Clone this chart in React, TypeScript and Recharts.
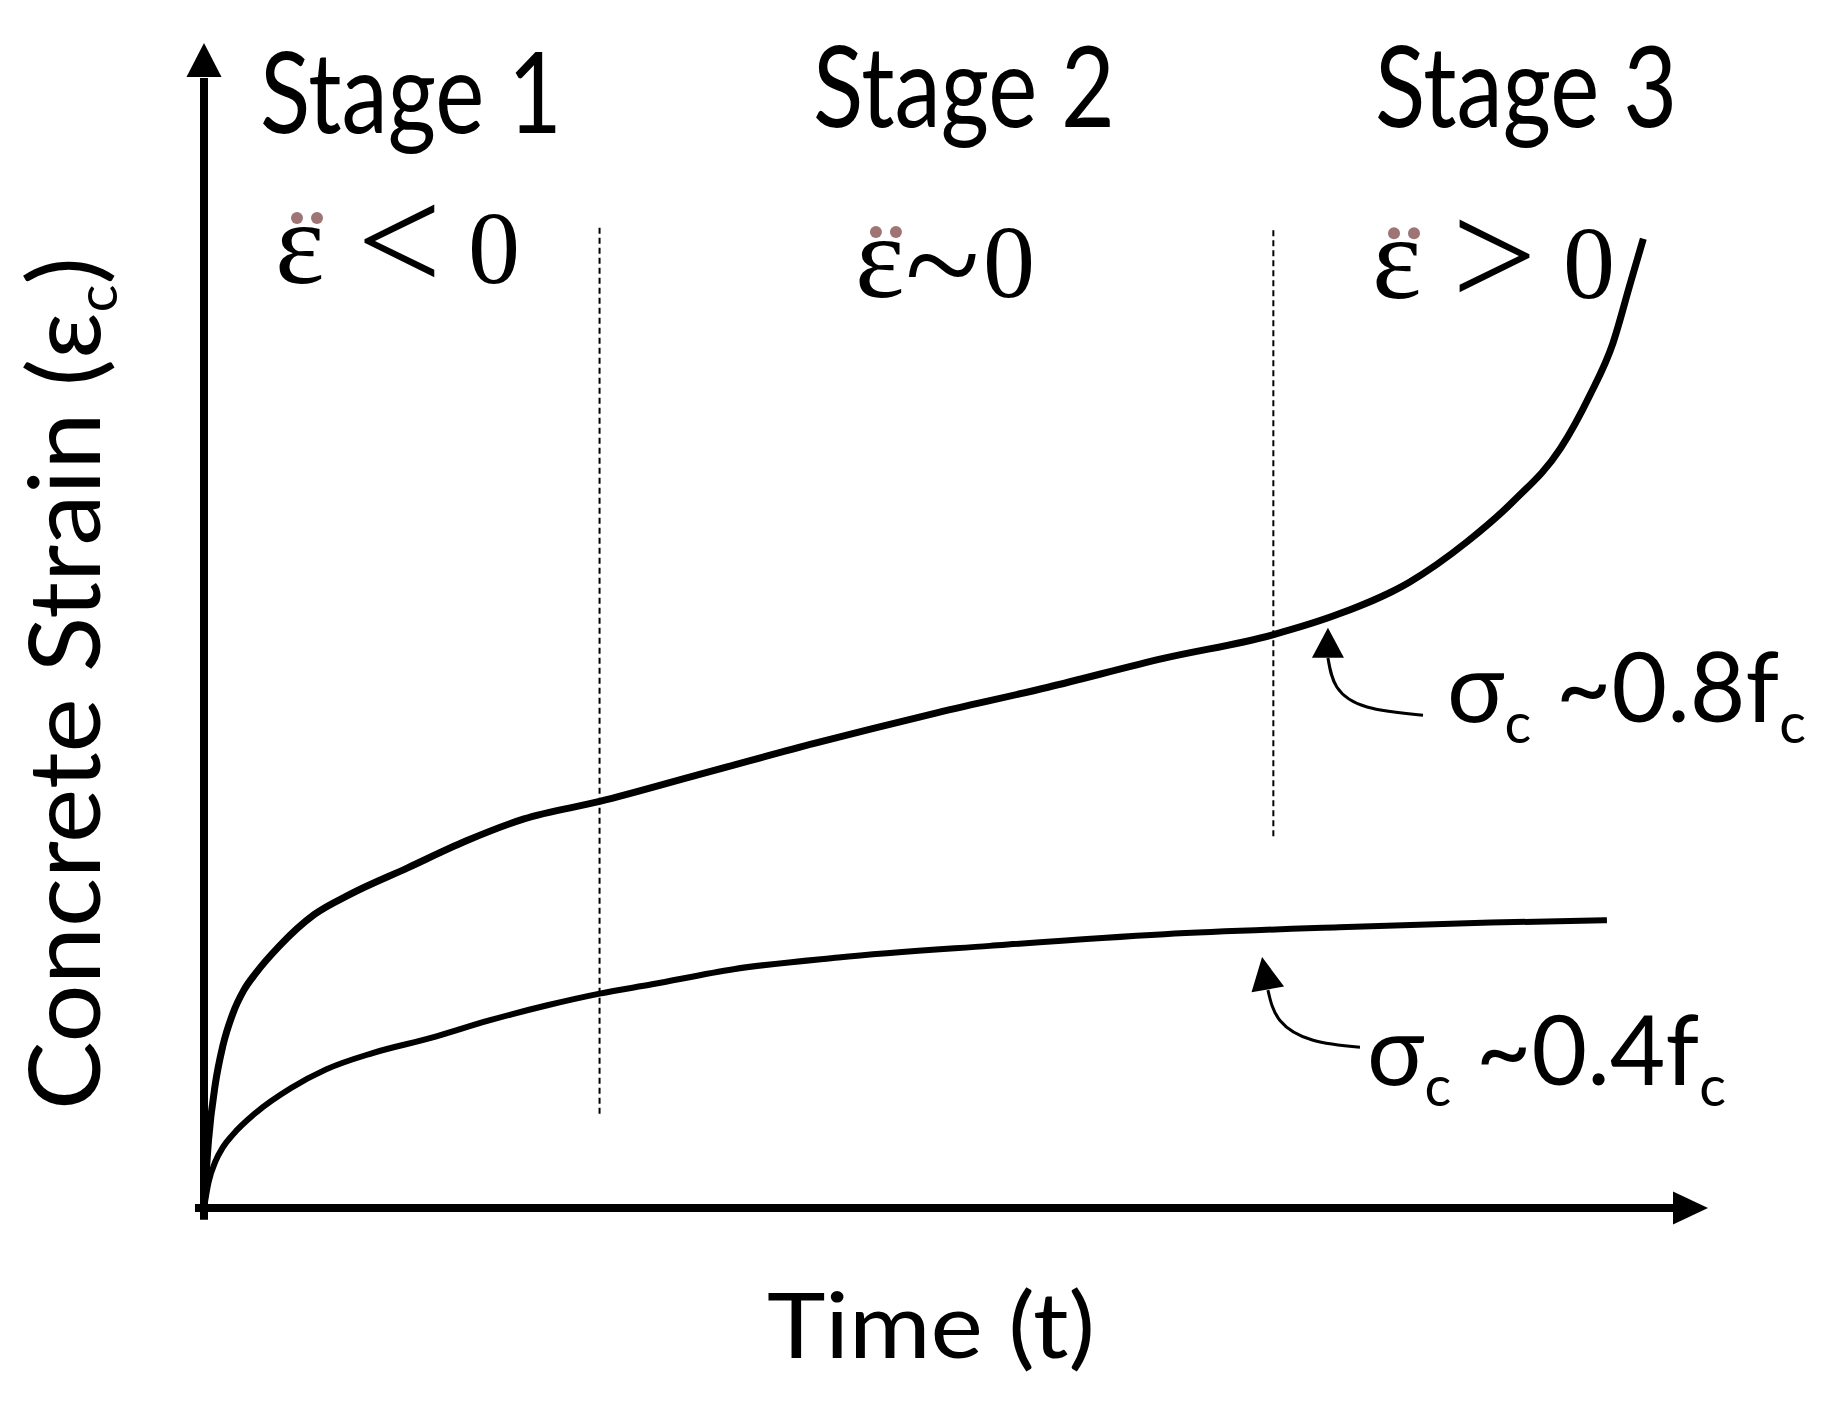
import React from 'react'
import { ComposedChart, Line, Scatter, XAxis, YAxis, ReferenceLine } from 'recharts'

// creep curves (time t, strain e; the axes run 0..100)
const highStress = [
  { t: 0, e: 0 }, { t: 0.3, e: 5.8 }, { t: 0.76, e: 10.7 }, { t: 1.25, e: 13.9 },
  { t: 1.92, e: 16.7 }, { t: 2.65, e: 18.7 }, { t: 3.47, e: 20.2 },
  { t: 5.02, e: 22.5 }, { t: 7.34, e: 25.2 }, { t: 9.67, e: 26.9 }, { t: 13.54, e: 29.2 },
  { t: 17.41, e: 31.5 }, { t: 21.28, e: 33.4 }, { t: 26.31, e: 34.9 }, { t: 32.89, e: 37.2 },
  { t: 40.64, e: 39.9 }, { t: 48.38, e: 42.4 }, { t: 56.12, e: 44.7 }, { t: 63.86, e: 47.2 },
  { t: 71.06, e: 49.2 }, { t: 75.48, e: 51.0 }, { t: 80.12, e: 53.7 }, { t: 83.99, e: 57.2 },
  { t: 87.09, e: 60.7 }, { t: 90.19, e: 65.2 }, { t: 92.12, e: 69.7 }, { t: 93.67, e: 74.2 },
  { t: 94.84, e: 79.4 }, { t: 95.7, e: 83.2 },
]

const lowStress = [
  { t: 0, e: 0 }, { t: 0.3, e: 2.2 }, { t: 0.76, e: 4.0 }, { t: 1.25, e: 5.2 },
  { t: 1.92, e: 6.3 }, { t: 3.47, e: 8.2 },
  { t: 5.79, e: 10.3 }, { t: 8.12, e: 11.9 }, { t: 11.21, e: 13.3 }, { t: 15.09, e: 14.6 },
  { t: 18.96, e: 16.1 }, { t: 22.83, e: 17.4 }, { t: 26.31, e: 18.4 }, { t: 29.79, e: 19.2 },
  { t: 35.21, e: 20.5 }, { t: 42.18, e: 21.5 }, { t: 52.25, e: 22.5 }, { t: 63.86, e: 23.5 },
  { t: 75.48, e: 24.1 }, { t: 85.55, e: 24.5 }, { t: 93.28, e: 24.7 },
]

// leader arrows pointing at each curve
const highLeader = [{ t: 74.73, e: 47.2 }, { t: 75.33, e: 44.7 }, { t: 77.33, e: 43.0 }, { t: 81.05, e: 42.3 }]
const lowLeader = [{ t: 70.74, e: 18.7 }, { t: 71.54, e: 16.1 }, { t: 73.74, e: 14.4 }, { t: 76.86, e: 13.8 }]

// stage boundaries: time and vertical extent
const stageBounds = [
  { t: 26.3, from: 8.1, to: 84.2 },
  { t: 71.1, from: 31.9, to: 84.2 },
]

const arrowheads = [
  { name: 'y', t: 0, e: 100 },
  { name: 'x', t: 100, e: 0 },
  { name: 'high', t: 74.73, e: 49.8 },
  { name: 'low', t: 70.35, e: 21.55 },
]

const stageLabels = [
  { text: 'Stage 1', t: 3.72, e: 92.27 },
  { text: 'Stage 2', t: 40.49, e: 92.79 },
  { text: 'Stage 3', t: 77.86, e: 92.79 },
]

const rateLabels = [
  { op: '<', t: 4.72, e: 79.4 },
  { op: '~', t: 43.28, e: 78.2 },
  { op: '>', t: 77.66, e: 78.1 },
]

const stressLabels = [
  { value: '0.8', t: 82.65, e: 41.72 },
  { value: '0.4', t: 77.33, e: 10.56 },
]

const xTitle = [{ text: 'Time (t)', t: 37.43, e: -12.88 }]
const yTitle = [{ text: 'Concrete Strain (ε', sub: 'c', t: -6.91, e: 8.41 }]

const SANS = "Lato, 'Noto Sans', sans-serif"
const SERIF = "'Liberation Serif', 'DejaVu Serif', serif"
const DOT_COLOR = '#9f7474'

const headStyle: Record<string, { rot: number; len: number; half: number }> = {
  y: { rot: 0, len: 34, half: 17.5 },
  x: { rot: 90, len: 35, half: 16.5 },
  high: { rot: 0, len: 30, half: 16 },
  low: { rot: -10, len: 33, half: 16.5 },
}

// horizontal offsets inside each "ε̈ op 0" label, plus operator size/shift
const rateOffsets: Record<string, { op: number; zero: number; dots: number; size: number; dy: number }> = {
  '<': { op: 82, zero: 193, dots: 32, size: 150, dy: 8 },
  '~': { op: 50, zero: 128, dots: 31, size: 138, dy: 14 },
  '>': { op: 80, zero: 191, dots: 32, size: 150, dy: 8 },
}

const Arrowhead = (props: any) => {
  const { cx, cy, payload } = props
  const s = headStyle[payload.name]
  return (
    <polygon
      points={`0,0 ${-s.half},${s.len} ${s.half},${s.len}`}
      transform={`translate(${cx},${cy}) rotate(${s.rot})`}
      fill="#000"
    />
  )
}

const StageText = (props: any) => (
  <text x={props.cx} y={props.cy} fontFamily={SANS} fontSize={112} fill="#000"
    textLength={302} lengthAdjust="spacingAndGlyphs">
    {props.payload.text}
  </text>
)

const RateText = (props: any) => {
  const { cx, cy, payload } = props
  const o = rateOffsets[payload.op]
  return (
    <g>
      <circle cx={cx + o.dots - 10} cy={cy - 65} r={6} fill={DOT_COLOR} />
      <circle cx={cx + o.dots + 10} cy={cy - 65} r={6} fill={DOT_COLOR} />
      <text y={cy} fontFamily={SERIF} fill="#000">
        <tspan x={cx} fontSize={118}>ε</tspan>
        <tspan x={cx + o.op} dy={o.dy} fontSize={o.size}>{payload.op}</tspan>
        <tspan x={cx + o.zero} y={cy} fontSize={104}>0</tspan>
      </text>
    </g>
  )
}

// σ_c ~0.8f_c, laid out in natural flow so the subscripts follow their letters
const StressText = (props: any) => {
  const { cx, cy, payload } = props
  return (
    <text x={cx} y={cy} fontFamily={SANS} fontSize={96} fill="#000">
      σ
      <tspan dy={21} fontSize={56}>c</tspan>
      <tspan dy={-21}>{` ~${payload.value}f`}</tspan>
      <tspan dy={21} fontSize={56}>c</tspan>
    </text>
  )
}

const XTitle = (props: any) => (
  <text x={props.cx} y={props.cy} fontFamily={SANS} fontSize={91} fill="#000"
    textLength={328} lengthAdjust="spacingAndGlyphs">
    {props.payload.text}
  </text>
)

const YTitle = (props: any) => {
  const { cx, cy, payload } = props
  return (
    <text x={cx} y={cy} transform={`rotate(-90 ${cx} ${cy})`} fontFamily={SANS} fontSize={98} fill="#000"
      textLength={853} lengthAdjust="spacingAndGlyphs">
      {payload.text}
      <tspan dy={17} fontSize={56}>{payload.sub}</tspan>
      <tspan dy={-17}>)</tspan>
    </text>
  )
}

export default function App() {
  return (
    <div style={{ position: 'absolute', left: 0, top: 0, width: 1826, height: 1418, background: '#fff' }}>
      <ComposedChart width={1826} height={1418} margin={{ top: 43, right: 118, bottom: 35.25, left: 53.6 }}>
        <XAxis dataKey="t" type="number" domain={[-10, 100]} hide />
        <YAxis dataKey="e" type="number" domain={[-15, 100]} hide />

        {stageBounds.map((b) => (
          <ReferenceLine key={b.t} segment={[{ x: b.t, y: b.from }, { x: b.t, y: b.to }]}
            stroke="#000" strokeWidth={2} strokeDasharray="6 4" ifOverflow="visible" />
        ))}

        <ReferenceLine segment={[{ x: 0, y: -1 }, { x: 0, y: 97 }]} stroke="#000" strokeWidth={8} ifOverflow="visible" />
        <ReferenceLine segment={[{ x: -0.6, y: 0 }, { x: 97.7, y: 0 }]} stroke="#000" strokeWidth={8} ifOverflow="visible" />

        <Line data={highStress} dataKey="e" type="monotone" stroke="#000" strokeWidth={7} dot={false} isAnimationActive={false} />
        <Line data={lowStress} dataKey="e" type="monotone" stroke="#000" strokeWidth={6} dot={false} isAnimationActive={false} />
        <Line data={highLeader} dataKey="e" type="natural" stroke="#000" strokeWidth={3} dot={false} isAnimationActive={false} />
        <Line data={lowLeader} dataKey="e" type="natural" stroke="#000" strokeWidth={3} dot={false} isAnimationActive={false} />

        <Scatter data={arrowheads} dataKey="e" shape={Arrowhead} isAnimationActive={false} />
        <Scatter data={stageLabels} dataKey="e" shape={StageText} isAnimationActive={false} />
        <Scatter data={rateLabels} dataKey="e" shape={RateText} isAnimationActive={false} />
        <Scatter data={stressLabels} dataKey="e" shape={StressText} isAnimationActive={false} />
        <Scatter data={xTitle} dataKey="e" shape={XTitle} isAnimationActive={false} />
        <Scatter data={yTitle} dataKey="e" shape={YTitle} isAnimationActive={false} />
      </ComposedChart>
    </div>
  )
}
